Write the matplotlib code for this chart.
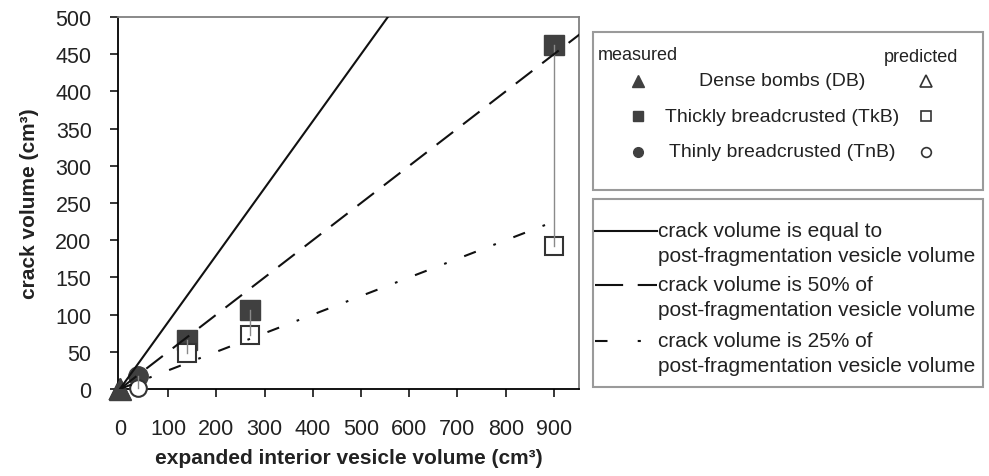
import matplotlib
matplotlib.use('Agg')
import matplotlib.pyplot as plt
from matplotlib.patches import Rectangle

plt.rcParams['font.family'] = ['Liberation Sans', 'DejaVu Sans']

# measured / predicted crack volumes (cm3) vs expanded interior vesicle volume (cm3)
db_x = [0]
db_measured = [0]
db_predicted = [0]

tkb_x = [140, 270, 900]
tkb_measured = [66, 106, 462]
tkb_predicted = [49, 73, 192]

tnb_x = [38]
tnb_measured = [18]
tnb_predicted = [2]

# reference lines: crack volume = slope * expanded volume
ref_slopes = [0.9, 0.5, 0.25]
ref_x_end = [560, 960, 910]
ref_labels = ['crack volume is equal to\npost-fragmentation vesicle volume',
              'crack volume is 50% of\npost-fragmentation vesicle volume',
              'crack volume is 25% of\npost-fragmentation vesicle volume']

series_names = ['Dense bombs (DB)', 'Thickly breadcrusted (TkB)', 'Thinly breadcrusted (TnB)']

W, H = 989, 477
fig = plt.figure(figsize=(W / 100, H / 100), dpi=100)


def px_rect(x0, y0, x1, y1):
    return [x0 / W, 1 - y1 / H, (x1 - x0) / W, (y1 - y0) / H]


ax = fig.add_axes(px_rect(118, 18, 579, 390))
dark = '#404040'
ink = '#111111'
txt = '#222222'

# connecting lines measured -> predicted
for xs, m, p in [(tkb_x, tkb_measured, tkb_predicted), (tnb_x, tnb_measured, tnb_predicted)]:
    for x, a, b in zip(xs, m, p):
        ax.plot([x, x], [a, b], color='#8a8a8a', lw=1.0, zorder=5, clip_on=False)

ax.plot(db_x, db_predicted, '^', ms=15, mfc='white', mec='#333', mew=1.5, zorder=2, clip_on=False)
ax.plot(db_x, db_measured, '^', ms=16, color=dark, zorder=3, clip_on=False)
ax.plot(tkb_x, tkb_measured, 's', ms=14, color=dark, zorder=3, clip_on=False)
ax.plot(tnb_x, tnb_measured, 'o', ms=14, color=dark, zorder=3, clip_on=False)
ax.plot(tkb_x, tkb_predicted, 's', ms=13, mfc='white', mec='#333', mew=1.5, zorder=4, clip_on=False)
ax.plot(tnb_x, tnb_predicted, 'o', ms=12, mfc='white', mec='#333', mew=1.5, zorder=4, clip_on=False)

styles = ['-', (0, (10, 6)), (0, (6, 9, 1.3, 9))]
for s, xe, ls in zip(ref_slopes, ref_x_end, styles):
    ax.plot([0, xe], [0, s * xe], color=ink, lw=1.5, linestyle=ls, zorder=6)

ax.set_xlim(-4, 952)
ax.set_ylim(0, 500)
ax.set_xticks(range(0, 901, 100))
ax.set_yticks(range(0, 501, 50))
ax.tick_params(axis='x', direction='out', length=6, width=1.1, pad=15, labelsize=15.5, labelcolor=txt)
ax.tick_params(axis='y', direction='out', length=6, width=1.1, pad=13, labelsize=15.5, labelcolor=txt)
for side in ['left', 'bottom']:
    ax.spines[side].set_linewidth(1.3)
    ax.spines[side].set_color('black')
for side in ['top', 'right']:
    ax.spines[side].set_linewidth(1.3)
    ax.spines[side].set_color('#808080')
ax.set_xlabel('expanded interior vesicle volume (cm³)', fontsize=15, fontweight='bold', color=txt, labelpad=6)
ax.set_ylabel('crack volume (cm³)', fontsize=15, fontweight='bold', color=txt, labelpad=12)

# legend boxes drawn in pixel space
ov = fig.add_axes([0, 0, 1, 1], zorder=10)
ov.set_xlim(0, W)
ov.set_ylim(H, 0)
ov.axis('off')
ov.patch.set_alpha(0)

ov.add_patch(Rectangle((593, 33), 390, 158, fill=False, ec='#9a9a9a', lw=1.5))
ov.text(598, 55, 'measured', fontsize=13, color=txt, va='center', ha='left')
ov.text(958, 57, 'predicted', fontsize=13, color=txt, va='center', ha='right')
rows_y = [82, 117, 153]
marks = ['^', 's', 'o']
sizes = [8, 7, 7]
for name, y, mk, sz in zip(series_names, rows_y, marks, sizes):
    ov.plot([638], [y], mk, ms=sz, color=dark)
    ov.plot([926], [y], mk, ms=sz, mfc='white', mec='#333', mew=1.2)
    ov.text(782, y, name, fontsize=14, color=txt, va='center', ha='center')

ov.add_patch(Rectangle((593, 200), 390, 188, fill=False, ec='#9a9a9a', lw=1.5))
leg_y = [232, 286, 342]
leg_styles = ['-', (0, (13.5, 7)), (0, (6, 14.5, 1.5, 30))]
for lab, y, ls in zip(ref_labels, leg_y, leg_styles):
    ov.plot([595, 657], [y, y], color=ink, lw=1.5, linestyle=ls)
    first, second = lab.split('\n')
    ov.text(658, y, first, fontsize=15, color=txt, va='center', ha='left')
    ov.text(658, y + 25, second, fontsize=15, color=txt, va='center', ha='left')

fig.savefig('out.png', dpi=100)
